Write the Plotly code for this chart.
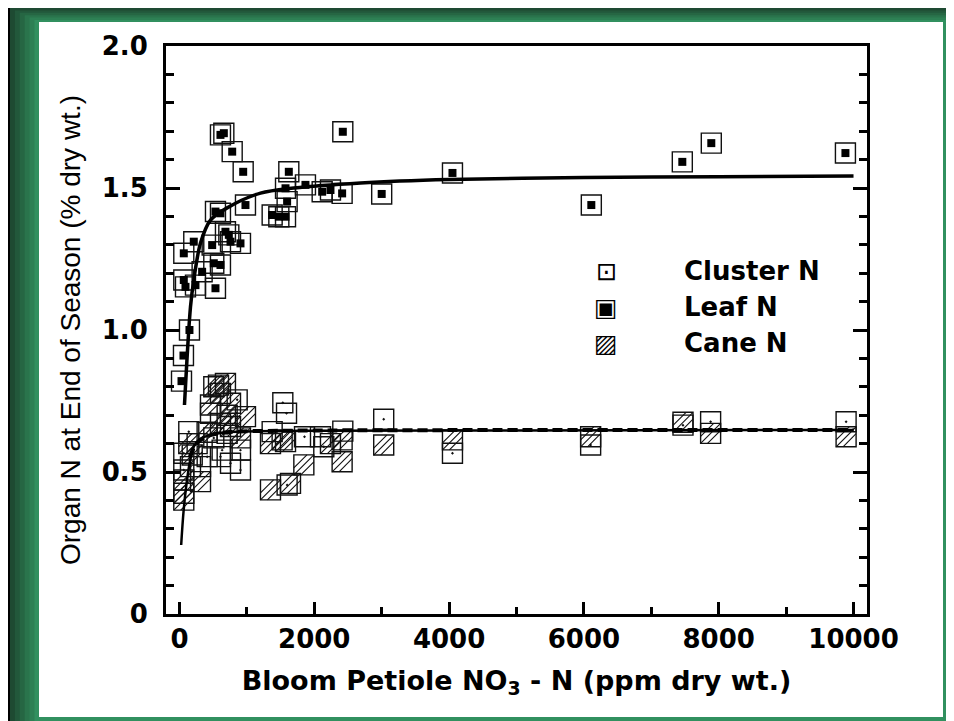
import plotly.graph_objects as go

# ---------------- data ----------------
leaf_x = [30, 59, 148, 64, 64, 89, 237, 212, 336, 485,
          509, 534, 608, 534, 608, 608, 658, 682, 732, 757,
          782, 905, 945, 979, 1375, 1474, 1573, 1597, 1573, 1622,
          1869, 2117, 2240, 2413, 2423, 3000, 4050, 6110, 7460, 7890,
          9880]
leaf_y = [0.82, 0.91, 1.00, 1.27, 1.176, 1.152, 1.158, 1.311, 1.205, 1.299,
          1.235, 1.147, 1.229, 1.417, 1.411, 1.687, 1.693, 1.346, 1.335, 1.311,
          1.628, 1.305, 1.557, 1.440, 1.405, 1.399, 1.399, 1.452, 1.499, 1.557,
          1.511, 1.487, 1.493, 1.481, 1.698, 1.479, 1.553, 1.440, 1.592, 1.658,
          1.623]

cluster_x = [64, 64, 138, 163, 262, 312, 411, 460, 509, 608,
             633, 707, 757, 856, 905, 905, 1375, 1533, 1588, 1597,
             1855, 2092, 2141, 2423, 3030, 4050, 6100, 7470, 7880, 9890]
cluster_y = [0.566, 0.507, 0.642, 0.519, 0.600, 0.519, 0.554, 0.707, 0.620, 0.554,
             0.577, 0.636, 0.531, 0.754, 0.577, 0.507, 0.642, 0.744, 0.707, 0.454,
             0.624, 0.624, 0.589, 0.644, 0.686, 0.566, 0.595, 0.665, 0.677, 0.677]

cane_x = [64, 64, 64, 138, 189, 312, 410, 460, 509, 579,
          608, 608, 682, 707, 757, 757, 979, 905, 1350, 1350,
          1523, 1573, 1647, 1845, 2240, 2413, 2413, 3030, 4050, 6100,
          7470, 7880, 9890]
cane_y = [0.472, 0.425, 0.401, 0.600, 0.560, 0.466, 0.640, 0.736, 0.800, 0.806,
          0.777, 0.671, 0.812, 0.700, 0.742, 0.660, 0.695, 0.620, 0.600, 0.437,
          0.613, 0.607, 0.460, 0.525, 0.600, 0.613, 0.536, 0.595, 0.613, 0.624,
          0.675, 0.636, 0.624]

# fitted curves
leaf_fit_x = [74, 163, 212, 312, 460, 707, 1202, 1696, 2686, 4000, 6000, 8000, 10000]
leaf_fit_y = [0.736, 1.081, 1.176, 1.306, 1.387, 1.430, 1.482, 1.500, 1.518, 1.530, 1.537, 1.540, 1.542]

cane_fit_x = [25, 60, 100, 150, 208, 300, 450, 700, 1000, 2000, 4000, 10000]
cane_fit_y = [0.243, 0.360, 0.450, 0.530, 0.588, 0.615, 0.630, 0.640, 0.643, 0.645, 0.646, 0.648]

cluster_fit_x = [150, 250, 400, 700, 1500, 3000, 10000]
cluster_fit_y = [0.550, 0.600, 0.625, 0.640, 0.645, 0.647, 0.648]

x_ticks = [0, 2000, 4000, 6000, 8000, 10000]
x_tick_text = ["0", "2000", "4000", "6000", "8000", "10000"]
y_ticks = [0, 0.5, 1.0, 1.5, 2.0]
y_tick_text = ["0", "0.5", "1.0", "1.5", "2.0"]

legend_labels = ["Cluster N", "Leaf N", "Cane N"]
legend_glyphs = ["\u22a1", "\u25a3", "\u25a8"]

# ---------------- styling ----------------
W, H = 954, 721
OFF = 8                       # page body margin of the html page
ML, MT = 166 - OFF, 46 - OFF
MR, MB = W - (867 - OFF), H - (614 - OFF)
PW, PH = W - ML - MR, H - MT - MB
ink = "#111111"
tick_font = dict(family="DejaVu Sans", size=26, color="black", weight="bold")


def u(px):
    return (px - OFF - ML) / PW


def v(py):
    return 1 - (py - OFF - MT) / PH


fig = go.Figure()

# Cane N: open square + diagonal hatch lines
fig.add_trace(go.Scatter(x=cane_x, y=cane_y, mode="markers", showlegend=False, hoverinfo="skip",
                         marker=dict(symbol="square-open", size=20, color=ink, line=dict(width=1.4))))
for s, ang, so in [(20.2, -45, 0), (13.2, -45, 4.9), (13.2, 135, 4.9)]:
    fig.add_trace(go.Scatter(x=cane_x, y=cane_y, mode="markers", showlegend=False, hoverinfo="skip",
                             marker=dict(symbol="line-ew-open", size=s, angle=ang, standoff=so,
                                         color=ink, line=dict(width=1.1))))

# Cluster N: open square with centre dot
fig.add_trace(go.Scatter(x=cluster_x, y=cluster_y, mode="markers", showlegend=False, hoverinfo="skip",
                         marker=dict(symbol="square-open-dot", size=20, color=ink, line=dict(width=1.4))))

# Leaf N: open square with small filled square
fig.add_trace(go.Scatter(x=leaf_x, y=leaf_y, mode="markers", showlegend=False, hoverinfo="skip",
                         marker=dict(symbol="square-open", size=20, color=ink, line=dict(width=1.4))))
fig.add_trace(go.Scatter(x=leaf_x, y=leaf_y, mode="markers", showlegend=False, hoverinfo="skip",
                         marker=dict(symbol="square", size=8, color="black", line=dict(width=0))))

# fitted curves
fig.add_trace(go.Scatter(x=leaf_fit_x, y=leaf_fit_y, mode="lines", showlegend=False, hoverinfo="skip",
                         line=dict(color="black", width=3.5, shape="spline", smoothing=0.9)))
fig.add_trace(go.Scatter(x=cane_fit_x, y=cane_fit_y, mode="lines", showlegend=False, hoverinfo="skip",
                         line=dict(color="black", width=2.5, shape="spline", smoothing=0.9)))
fig.add_trace(go.Scatter(x=cluster_fit_x, y=cluster_fit_y, mode="lines", showlegend=False, hoverinfo="skip",
                         line=dict(color="black", width=4, dash="10px,5px", shape="spline", smoothing=0.9)))

# ---------------- frame (green bevelled border) ----------------
shapes = [dict(type="rect", xref="paper", yref="paper", layer="below", line=dict(width=0),
               x0=u(7), x1=u(W + 20), y0=v(H + 20), y1=v(4), fillcolor="black")]
greens = ["#1e4a32", "#22583b", "#266643", "#2a744c", "#2d8054", "#31905f"]
for i, g in enumerate(greens):
    shapes.append(dict(type="rect", xref="paper", yref="paper", layer="below", line=dict(width=0),
                       x0=u(10 + i * 4.9), x1=u(W + 20), y0=v(H + 20), y1=v(8 + i * 2.4), fillcolor=g))
shapes.append(dict(type="rect", xref="paper", yref="paper", layer="below", line=dict(width=0),
                   x0=u(39), x1=u(943), y0=v(717), y1=v(22), fillcolor="white"))

# ---------------- legend as annotations ----------------
annotations = []
for i, (lab, gl) in enumerate(zip(legend_labels, legend_glyphs)):
    yy = 271 + 36 * i
    annotations.append(dict(xref="paper", yref="paper", x=u(606), y=v(yy), text=gl, showarrow=False,
                            xanchor="center", yanchor="middle",
                            font=dict(family="DejaVu Sans", size=25, color="black")))
    annotations.append(dict(xref="paper", yref="paper", x=u(682), y=v(yy), text=lab, showarrow=False,
                            xanchor="left", yanchor="middle",
                            font=dict(family="DejaVu Sans", size=26, color="black", weight="bold")))

fig.update_layout(
    width=W, height=H,
    margin=dict(l=ML, r=MR, t=MT, b=MB, pad=0),
    paper_bgcolor="white", plot_bgcolor="white",
    shapes=shapes, annotations=annotations,
    showlegend=False,
)

fig.update_xaxes(
    range=[-200, 10200], tickmode="array", tickvals=x_ticks, ticktext=x_tick_text,
    ticks="inside", ticklen=12, tickwidth=2.5, tickcolor="black",
    showline=True, linewidth=3, linecolor="black", mirror=True,
    showgrid=False, zeroline=False, tickfont=tick_font, ticklabelstandoff=0,
    minor=dict(dtick=1000, tick0=0, ticks="inside", ticklen=7, tickwidth=2.5, tickcolor="black", showgrid=False),
    title=dict(text="Bloom Petiole NO<sub>3</sub> - N (ppm dry wt.)", standoff=18,
               font=dict(family="DejaVu Sans", size=27, color="black", weight="bold")),
)
fig.update_yaxes(
    range=[0, 2], tickmode="array", tickvals=y_ticks, ticktext=y_tick_text,
    ticks="inside", ticklen=14, tickwidth=2.5, tickcolor="black",
    showline=True, linewidth=3, linecolor="black", mirror="ticks",
    showgrid=False, zeroline=False, tickfont=tick_font, ticklabelstandoff=10,
    minor=dict(dtick=0.1, tick0=0, ticks="inside", ticklen=8, tickwidth=2.5, tickcolor="black", showgrid=False),
    title=dict(text="Organ N at End of Season (% dry wt.)", standoff=13,
               font=dict(family="Liberation Sans", size=28, color="black")),
)

fig.write_html("out.html")
